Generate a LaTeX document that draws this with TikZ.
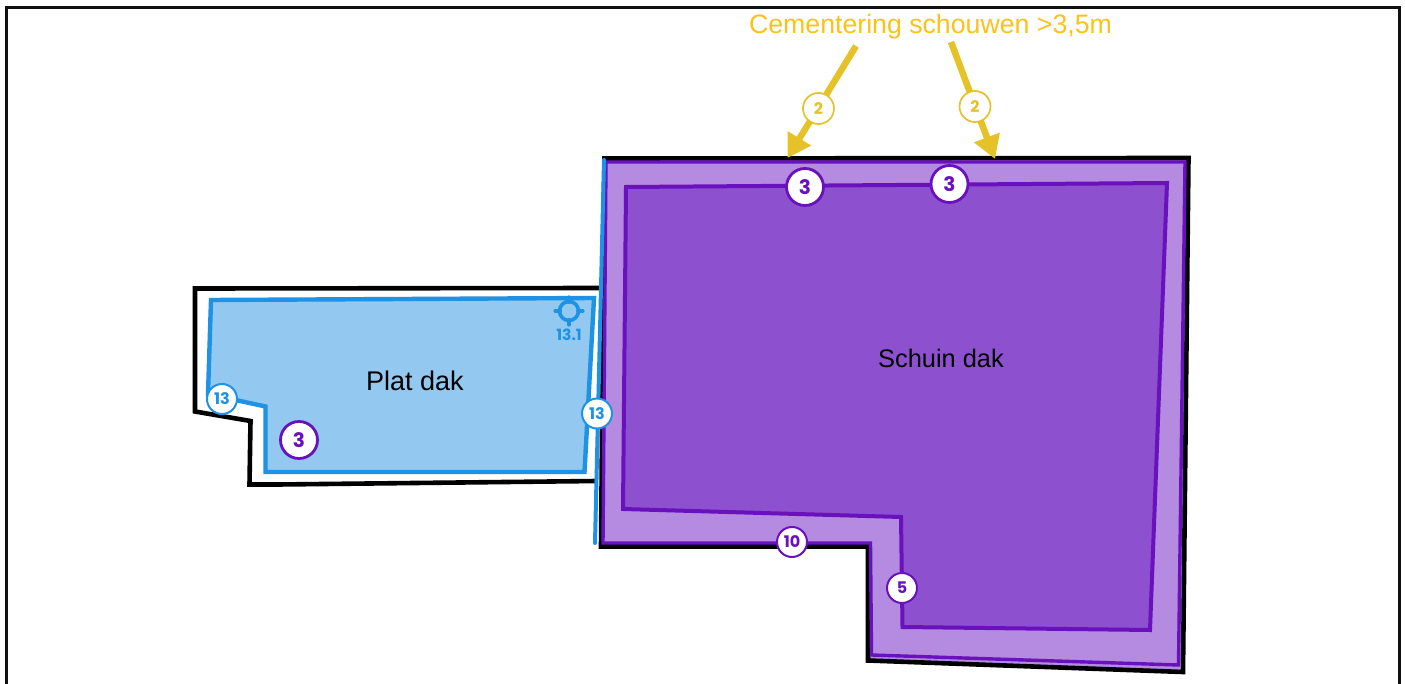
\documentclass[tikz,border=0pt]{standalone}
\usepackage{fontspec}
\setmainfont{Liberation Sans}
\newfontfamily\numfont{Poppins}[UprightFont=* Bold]
\usetikzlibrary{arrows.meta}
\definecolor{framek}{HTML}{111111}
\definecolor{bluel}{HTML}{1E93E6}
\definecolor{bluef}{HTML}{93C9F1}
\definecolor{purl}{HTML}{6A11BE}
\definecolor{purlight}{HTML}{B48BE0}
\definecolor{purmid}{HTML}{8D50CE}
\definecolor{yel}{HTML}{E6C229}
\definecolor{yeltext}{HTML}{FCC21B}
\tikzset{
  x=1pt,y=-1pt,
  outline/.style={draw=black,line width=4.6pt,line join=miter},
  badge/.style={circle,fill=white,inner sep=0pt,font=\numfont},
  badgebig/.style={badge,draw=purl,text=purl,line width=2.8pt,minimum size=37pt,font=\numfont\fontsize{20}{20}\selectfont},
  badgesmall/.style={badge,line width=2pt,minimum size=30pt,font=\numfont\fontsize{16}{16}\selectfont},
  badgepur/.style={badgesmall,draw=purl,text=purl},
  badgeblue/.style={badgesmall,draw=bluel,text=bluel},
  badgeyel/.style={badgesmall,draw=yel,text=yel,minimum size=31pt,line width=1.7pt},
  yarrow/.style={draw=yel,line width=6.5pt,-{Triangle[length=23pt,width=26pt]}},
  roofname/.style={text=black,inner sep=0pt},
}
\begin{document}
\begin{tikzpicture}
\useasboundingbox (0,0) rectangle (1405,684);
\fill[white] (0,0) rectangle (1405,684);
\draw[framek,line width=3pt] (6.3,684) -- (6.3,7.5) -- (1399,7.5) -- (1399,684);
% flat roof
\draw[outline] (605,288) -- (195,288.5) -- (195,411.5) -- (250.5,421) -- (249.5,484.5) -- (278,484.5) -- (597,481);
\draw[draw=bluel,fill=bluef,line width=4.4pt] (211,300) -- (594,298) -- (584.5,472) -- (265.5,472) -- (265.5,406.5) -- (208,394) -- cycle;
% sloped roof
\draw[outline,fill=purlight] (604.5,158.5) -- (1188.5,158) -- (1183,672) -- (868,660.5) -- (868,546.5) -- (601,546.5) -- cycle;
\draw[draw=purl,fill=purlight,line width=3.4pt] (606,162) -- (1185,162) -- (1178.5,665) -- (871.5,655) -- (870.5,543) -- (603,543) -- cycle;
\draw[draw=purl,fill=purmid,line width=4pt] (626,187) -- (1167,183) -- (1150,630) -- (902.5,627) -- (901,517) -- (623,509) -- cycle;
\draw[draw=bluel,line width=4pt,line cap=round] (604,160) -- (595,543);
% labels
\node[roofname,font=\fontsize{27}{27}\selectfont] (plat) at (415,381) {Plat dak};
\node[roofname,font=\fontsize{25.4}{25.4}\selectfont] (schuin) at (941,358.5) {Schuin dak};
\node[font=\fontsize{26.7}{26.7}\selectfont,text=yeltext,inner sep=0pt] (title) at (930.5,26.5) {Cementering schouwen >3,5m};
% arrows
\coordinate (a1) at (856,46);
\coordinate (t1) at (787.5,158);
\coordinate (a2) at (951,42);
\coordinate (t2) at (995,159);
\draw[yarrow] (a1) -- (t1);
\draw[yarrow] (a2) -- (t2);
\node[badgeyel] (y1) at (818.5,108.5) {2};
\node[badgeyel] (y2) at (975,106.5) {2};
% badges
\node[badgebig] (p1) at (805,187) {3};
\node[badgebig] (p2) at (949.5,184) {3};
\node[badgebig] (p3) at (299,440) {3};
\node[badgeblue] (b1) at (222,399) {13};
\node[badgeblue] (b2) at (597,413.5) {13};
\node[badgepur] (p4) at (792,542) {10};
\node[badgepur] (p5) at (902,588) {5};
% target icon
\node[circle,draw=bluel,line width=3.6pt,minimum size=19pt,inner sep=0pt] (target) at (569,311) {};
\draw[bluel,line width=3.6pt,line cap=round] (target.north) ++(0,-2.5) -- ++(0,5);
\draw[bluel,line width=3.6pt,line cap=round] (target.south) ++(0,-2.5) -- ++(0,5);
\draw[bluel,line width=3.6pt,line cap=round] (target.west) ++(-2.5,0) -- ++(5,0);
\draw[bluel,line width=3.6pt,line cap=round] (target.east) ++(-2.5,0) -- ++(5,0);
\node[font=\numfont\fontsize{15.5}{15.5}\selectfont,text=bluel,inner sep=0pt] (tl) at (569,335) {13.1};
\end{tikzpicture}
\end{document}
